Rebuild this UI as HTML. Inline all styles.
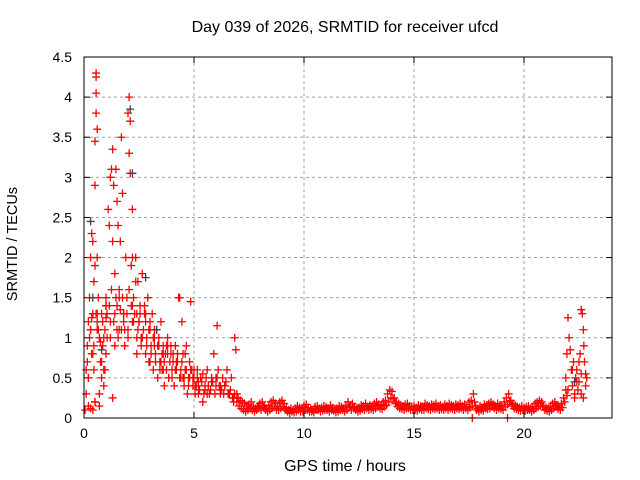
<!DOCTYPE html>
<html><head><meta charset="utf-8"><style>
body{margin:0;background:#fff}
svg{display:block;font-family:"Liberation Sans",sans-serif}
</style></head><body>
<svg id="chart" width="640" height="480">
<rect width="640" height="480" fill="#fff"/>
<text x="345" y="32" font-size="16" text-anchor="middle">Day 039 of 2026, SRMTID for receiver ufcd</text>
<text x="345" y="471" font-size="16" text-anchor="middle">GPS time / hours</text>
<text x="17" y="244" font-size="14.5" text-anchor="middle" transform="rotate(-90 17 244)">SRMTID / TECUs</text>
<g id="grid"></g>
<g id="marks"></g>
<rect x="84" y="57" width="528" height="361" fill="none" stroke="#000" stroke-width="1"/>
</svg>
<script>
const xTicks=[0,5,10,15,20];
const yTicks=[0,0.5,1,1.5,2,2.5,3,3.5,4,4.5];
const yTickLabels=["0","0.5","1","1.5","2","2.5","3","3.5","4","4.5"];
const earlyT=[0.05,0.1,0.1,0.15,0.2,0.2,0.25,0.3,0.3,0.35,0.35,0.4,0.4,0.45,0.45,0.5,0.5,0.5,0.55,0.55,0.55,0.55,0.6,0.6,0.6,0.65,0.7,0.75,0.8,0.8,0.85,0.9,0.95,1.0,1.0,1.05,1.1,1.15,1.2,1.25,1.3,1.3,1.35,1.4,1.45,1.5,1.5,1.55,1.6,1.65,1.7,1.7,1.75,1.8,1.85,1.9,1.95,2.0,2.05,2.05,2.1,2.1,2.15,2.2,2.2,2.25,2.3,2.35,2.4,2.45,2.5,2.55,2.6,2.65,2.7,2.75,2.8,2.85,2.9,2.95,3.0,3.05,3.1,3.15,3.2,3.25,3.3,3.35,3.4,3.45,3.5,3.55,3.6,3.65,3.7,3.75,3.8,3.85,3.9,3.95,4.0,4.05,4.1,4.15,4.2,4.25,4.3,4.35,4.4,4.45,4.5,4.55,4.6,4.65,4.7,4.75,4.8,4.85,4.9,4.95,5.0,5.05,5.1,5.15,5.2,5.3,5.4,5.5,5.6,5.7,5.8,5.9,6.0,6.05,6.1,6.2,6.3,6.4,6.5,6.6,6.7,6.8,6.85,6.9,6.95,7.0,
0.3,0.6,0.9,1.0,1.2,1.4,1.6,1.8,2.0,2.2,2.4,2.6,2.8,3.0,3.2,3.4,3.6,3.8,1.0,1.5,2.5,3.5,4.5,5.2,5.5,6.2,6.6,0.2,0.3,0.5,0.7,0.9,1.3,0.5,0.7,0.4];
const earlyV=[0.1,0.3,0.6,0.9,1.2,0.5,1.5,2.0,1.1,2.3,0.8,2.2,1.3,1.7,0.6,3.45,2.9,1.9,4.25,4.3,4.05,3.8,3.6,2.0,1.2,1.5,1.0,0.7,1.3,0.5,0.9,0.6,1.1,0.8,1.5,1.3,2.6,2.4,3.0,3.1,3.35,2.2,2.9,1.8,3.1,2.7,1.4,2.4,1.6,2.2,1.1,3.5,2.8,1.3,0.9,2.0,1.5,3.8,4.0,3.3,3.7,3.05,1.9,2.6,2.0,1.5,1.3,2.0,1.0,1.7,1.2,1.4,0.9,1.8,1.1,1.3,0.8,1.0,1.5,0.7,1.2,0.9,1.3,0.6,1.0,0.8,1.1,0.5,0.9,0.7,1.2,0.6,0.9,0.4,0.8,0.6,1.0,0.5,0.7,0.9,0.6,0.8,0.4,0.9,0.6,0.7,1.5,1.5,0.5,1.2,0.8,0.4,0.6,0.9,0.3,0.5,0.7,1.45,0.6,0.4,0.5,0.3,0.4,0.6,0.3,0.5,0.2,0.4,0.6,0.3,0.5,0.8,0.4,1.15,0.6,0.3,0.5,0.4,0.6,0.3,0.5,0.2,1.0,0.85,0.3,0.25,
1.1,1.3,1.0,1.4,1.2,1.3,1.1,1.2,1.0,1.4,1.3,1.0,1.2,1.1,0.9,1.0,0.8,0.9,1.25,1.1,1.2,0.7,0.5,0.45,0.35,0.4,0.3,0.15,0.12,0.2,0.3,0.4,0.25,0.2,0.15,0.1];
const fillT=[0.15,0.25,0.35,0.45,0.55,0.65,0.75,0.85,0.95,1.05,1.15,1.25,1.35,1.45,1.55,1.65,1.75,1.85,1.95,2.05,2.15,2.25,2.35,2.45,2.55,2.65,2.75,2.85,2.95,3.05,3.15,3.25,3.35,3.45,3.55,3.65,3.75,3.85,3.95,4.05,4.15,4.25,4.35,4.45,4.55,4.65,4.75,4.85,4.95,5.05,5.15,5.25,5.35,5.45,5.55,5.65,5.75,5.85,5.95,6.05,6.15,6.25,6.35,6.45,6.55,6.65,6.75,6.85,6.95,
0.2,0.4,0.6,0.8,1.0,1.2,1.4,1.6,1.8,2.0,2.2,2.4,2.6,2.8,3.0,3.2,3.4,3.6,3.8,4.0,4.2,4.4,4.6,4.8,5.0,5.2,5.4,5.6,5.8,6.0,6.2,6.4,6.6,6.8];
const fillV=[0.7,1.0,1.25,0.9,1.3,1.1,0.95,1.2,0.6,1.0,1.4,1.6,1.2,1.5,1.0,1.35,1.5,1.1,1.3,1.6,1.4,1.2,1.7,1.1,1.3,1.0,1.4,0.9,1.1,0.8,1.0,0.7,0.9,0.6,0.8,0.7,0.9,0.5,0.8,0.7,0.6,0.8,0.5,0.7,0.5,0.6,0.4,0.6,0.5,0.4,0.5,0.35,0.45,0.3,0.5,0.4,0.35,0.45,0.3,0.5,0.4,0.35,0.3,0.45,0.3,0.35,0.25,0.3,0.2,
0.5,0.8,1.1,0.7,1.4,1.0,0.9,1.5,1.3,1.1,1.2,0.8,1.0,1.3,0.7,1.1,0.9,0.6,0.8,0.5,0.7,0.6,0.8,0.5,0.6,0.4,0.55,0.3,0.45,0.5,0.35,0.4,0.3,0.25];
const baseStart=7.0, baseStep=0.1;
const baseV=[.25,.22,.2,.18,.15,.17,.2,.14,.12,.15,.18,.2,.15,.12,.16,.2,.22,.18,.15,.2,.22,.18,.13,.1,.12,.1,.12,.15,.13,.12,.15,.17,.13,.12,.1,.14,.15,.12,.13,.15,.14,.12,.16,.13,.11,.12,.15,.14,.12,.16,.2,.15,.18,.14,.12,.13,.16,.15,.18,.14,.16,.15,.18,.2,.17,.16,.2,.22,.3,.35,.33,.25,.2,.18,.16,.15,.17,.18,.15,.14,.15,.13,.16,.15,.14,.18,.16,.15,.17,.16,.18,.15,.16,.14,.17,.15,.18,.16,.15,.17,.16,.18,.15,.17,.14,.2,.22,.3,.15,.12,.15,.13,.17,.16,.18,.2,.17,.15,.18,.16,.14,.2,.25,.3,.22,.18,.16,.14,.13,.15,.13,.14,.15,.12,.14,.18,.2,.22,.2,.15,.13,.12,.15,.18,.2,.16,.14,.18,.25,.35];
const baseLo=[.15,.12,.1,.08,.1,.12,.1,.08,.1,.12,.1,.13,.1,.08,.1,.12,.14,.1,.1,.12,.14,.1,.08,.06,.08,.07,.08,.1,.08,.08,.1,.1,.08,.08,.07,.1,.1,.08,.09,.1,.1,.08,.1,.09,.07,.08,.1,.1,.08,.1,.13,.1,.12,.1,.08,.09,.11,.1,.12,.1,.11,.1,.12,.14,.12,.11,.14,.16,.2,.25,.24,.18,.14,.12,.11,.1,.12,.12,.1,.1,.1,.09,.11,.1,.1,.12,.11,.1,.12,.11,.12,.1,.11,.1,.12,.1,.12,.11,.1,.12,.11,.12,.1,.12,.1,.13,.15,.2,.1,.08,.1,.09,.12,.11,.12,.14,.12,.1,.12,.11,.1,.14,.17,.2,.15,.12,.11,.1,.09,.1,.09,.1,.1,.08,.1,.12,.14,.15,.14,.1,.09,.08,.1,.12,.14,.11,.1,.13,.2,.28];
const lateT=[21.9,21.95,22.0,22.05,22.1,22.15,22.2,22.25,22.3,22.35,22.4,22.45,22.5,22.55,22.6,22.65,22.7,22.72,22.75,22.8,22.85,22.6,22.7,22.8,17.65,19.25,22.0,22.2,22.4,22.6,22.5,22.3];
const lateV=[0.5,0.8,1.25,1.0,0.85,0.6,0.4,0.7,0.3,0.5,0.6,0.35,0.45,0.8,1.35,1.3,1.1,0.9,0.7,0.55,0.5,0.3,0.25,0.4,0.0,0.0,0.35,0.6,0.45,0.55,0.7,0.25];
const grayT=[0.3,0.8,2.1,2.2,2.8,3.3,0.4,22.3];
const grayV=[2.45,0.85,3.85,3.05,1.75,1.1,1.5,0.45];

const X=t=>84+t*22, Y=v=>418-v*361/4.5;
const NS="http://www.w3.org/2000/svg";
const grid=document.getElementById('grid'), marks=document.getElementById('marks');
function mk(tag,attrs,parent){const e=document.createElementNS(NS,tag);for(const k in attrs)e.setAttribute(k,attrs[k]);parent.appendChild(e);return e;}
xTicks.forEach(t=>{const x=X(t);
 if(t>0){const g=mk('line',{x1:x,x2:x,y1:57,y2:418,stroke:'#a0a0a0','stroke-dasharray':'3,3'},grid);
 
 }
 mk('line',{x1:x,x2:x,y1:418,y2:412,stroke:'#000'},grid);mk('line',{x1:x,x2:x,y1:57,y2:63,stroke:'#000'},grid);
 const l=mk('text',{x:x,y:438,'font-size':14,'text-anchor':'middle'},grid);l.textContent=t;
 
 });
yTicks.forEach((v,i)=>{const y=Y(v);
 if(v>0&&v<4.5){const g=mk('line',{x1:84,x2:612,y1:y,y2:y,stroke:'#a0a0a0','stroke-dasharray':'3,3'},grid);
 
 }
 mk('line',{x1:84,x2:90,y1:y,y2:y,stroke:'#000'},grid);mk('line',{x1:612,x2:606,y1:y,y2:y,stroke:'#000'},grid);
 const l=mk('text',{x:72,y:y+5,'font-size':14,'text-anchor':'end'},grid);l.textContent=yTickLabels[i];
 
 });
function plus(t,v,col,name){const x=X(t),y=Y(v);
 const p=mk('path',{d:`M${x-4},${y}H${x+4}M${x},${y-4}V${y+4}`,stroke:col,'stroke-width':1.3,fill:'none'},marks);
 
 }
earlyT.forEach((t,i)=>plus(t,earlyV[i],'#ff0000','point'));
fillT.forEach((t,i)=>plus(t,fillV[i],'#ff0000','point'));
baseV.forEach((v,i)=>{const t=baseStart+i*baseStep;plus(t,v,'#ff0000','point');plus(t+0.05,baseLo[i],'#ff0000','point');});
lateT.forEach((t,i)=>plus(t,lateV[i],'#ff0000','point'));
grayT.forEach((t,i)=>plus(t,grayV[i],'#404050','gray-point'));
</script>
</body></html>
